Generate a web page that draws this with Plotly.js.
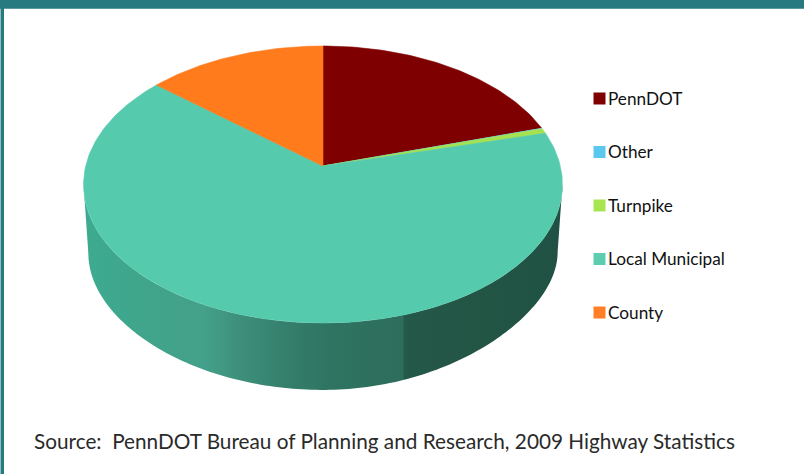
<!DOCTYPE html>
<html><head><meta charset="utf-8">
<script src="https://cdn.plot.ly/plotly-3.0.0.min.js"></script>
<style>html,body{margin:0;padding:0;background:#fff}#c{width:804px;height:474px}</style>
</head><body><div id="c"></div>
<script>
const categories = ["PennDOT","Other","Turnpike","Local Municipal","County"];
const shares = [20.3,0.1,0.6,65.2,13.8];
const colors = ["#7f0000","#5bc8f0","#a4e24f","#56caac","#ff7b1c"];
const swatches = ["#7f0000","#5bc8f0","#a8e651","#5ccdb0","#ff7f27"];
const sourceNote = "Source:\u00a0\u00a0PennDOT Bureau of Planning and Research, 2009 Highway Statistics";

const W=804,H=474,cx=323,cy=166,K=0.1336,A=136,B=237.3;
const depthScale=0.98, depthCy=236.1;
const topRim=(deg)=>{const t=deg*Math.PI/180,u=Math.sin(t),v=Math.cos(t),d=1+K*v;return [cx+B*u/d,cy-A*v/d];};
const botRim=(deg)=>{const t=deg*Math.PI/180,u=Math.sin(t),v=Math.cos(t),d=1+K*v;
  const lift=(u>0?20:8)*u*u*Math.max(0,-v);
  return [cx+depthScale*B*u/d,depthCy-depthScale*A*v/d-lift];};
const arc=(f,a,b)=>{const n=Math.max(2,Math.ceil(Math.abs(b-a)));const p=[];for(let i=0;i<=n;i++)p.push(f(a+(b-a)*i/n));return p;};

const total=shares.reduce((s,v)=>s+v,0);
let run=0;
const spans=shares.map(v=>{const a=run/total*360;run+=v;return [a,run/total*360];});
const wideA=Math.acos(-K)*180/Math.PI, wideB=360-wideA;
const wallStops=[[83,"#3dab90"],[150,"#40a48b"],[205,"#44a08a"],[245,"#3c8d79"],[290,"#347e6b"],[330,"#2f7462"],[403,"#2d6d5b"],[404.5,"#245848"],[480,"#235545"],[563,"#1f5244"]];
const wallScale=wallStops.map(s=>[(s[0]-83)/480,s[1]]);

const traces=[];
spans.forEach((s,i)=>{
  const a=Math.max(s[0],wideA),b=Math.min(s[1],wideB);
  if(b<=a) return;
  const pts=arc(topRim,a,b).concat(arc(botRim,b,a));
  pts.push(pts[0]);
  traces.push({type:"scatter",mode:"none",x:pts.map(p=>p[0]),y:pts.map(p=>p[1]),fill:"toself",
    fillgradient:{type:"horizontal",start:83,stop:563,colorscale:wallScale},
    hoverinfo:"skip",showlegend:false});
});
spans.forEach((s,i)=>{
  const pts=[[cx,cy]].concat(arc(topRim,s[0],s[1]));
  pts.push([cx,cy]);
  traces.push({type:"scatter",mode:"lines",x:pts.map(p=>p[0]),y:pts.map(p=>p[1]),fill:"toself",
    fillcolor:colors[i],line:{color:colors[i],width:0.6},name:categories[i],
    hoveron:"fills",text:categories[i]+": "+shares[i]+"%",hoverinfo:"text",showlegend:false});
});
const legendX=599.5,legendY=98.5,legendStep=53.5;
categories.forEach((c,i)=>{
  traces.push({type:"scatter",mode:"markers",x:[legendX],y:[legendY+i*legendStep],
    marker:{symbol:"square",size:12,color:swatches[i]},hoverinfo:"skip",showlegend:false,cliponaxis:false});
});

const layout={width:W,height:H,margin:{l:0,r:0,t:0,b:0,pad:0},paper_bgcolor:"#fff",plot_bgcolor:"#fff",
  xaxis:{range:[0,W],visible:false,fixedrange:true},
  yaxis:{range:[H,0],visible:false,fixedrange:true},
  showlegend:false,
  shapes:[
    {type:"rect",xref:"x",yref:"y",x0:0,x1:W,y0:0,y1:8.7,fillcolor:"#267a80",line:{width:0},layer:"above"},
    {type:"rect",xref:"x",yref:"y",x0:0.5,x1:4,y0:0,y1:H,fillcolor:"#267a80",line:{width:0},layer:"above"}
  ],
  annotations:categories.map((c,i)=>({xref:"x",yref:"y",x:606,y:legendY+i*legendStep-0.5,xanchor:"left",yanchor:"middle",
      showarrow:false,text:c,font:{family:"Lato, sans-serif",size:17.2,color:"#111"}}))
    .concat([{xref:"x",yref:"y",x:32,y:441,xanchor:"left",yanchor:"middle",showarrow:false,text:sourceNote,
      font:{family:"Lato, sans-serif",size:20.75,color:"#2a2a2a"}}])
};
Plotly.newPlot("c",traces,layout,{displayModeBar:false,responsive:false});
</script></body></html>
